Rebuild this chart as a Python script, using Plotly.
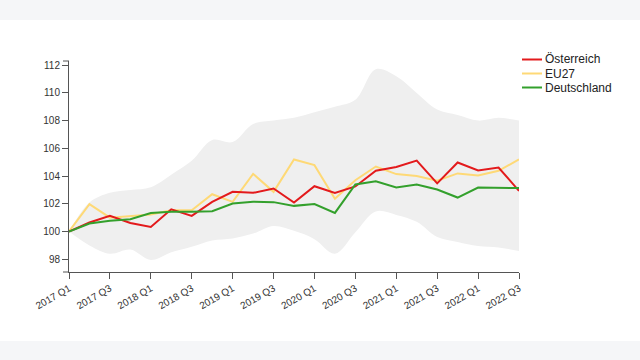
import plotly.graph_objects as go

quarters = [f"{y} Q{q}" for y in range(2017, 2023) for q in range(1, 5)][:23]
tick_labels = quarters[::2]

oesterreich = [100, 100.65, 101.13, 100.62, 100.33, 101.6, 101.13, 102.14, 102.86, 102.79, 103.1, 102.09,
               103.27, 102.79, 103.25, 104.38, 104.66, 105.12, 103.47, 104.98, 104.4, 104.62, 102.93]
eu27 = [100, 101.97, 101.0, 101.1, 101.23, 101.54, 101.54, 102.69, 102.14, 104.16, 102.86, 105.2,
        104.79, 102.37, 103.7, 104.69, 104.14, 104.0, 103.66, 104.19, 104.04, 104.38, 105.2]
deutschland = [100, 100.58, 100.77, 100.89, 101.34, 101.42, 101.42, 101.47, 102.02, 102.15, 102.12, 101.85,
               101.98, 101.34, 103.39, 103.63, 103.17, 103.39, 103.03, 102.45, 103.17, 103.17, 103.14]
band_upper = [100, 102.1, 102.8, 103.0, 103.2, 104.1, 105.1, 106.6, 106.45, 107.75, 108.0, 108.2,
              108.6, 109.0, 109.5, 111.7, 111.2, 110.0, 108.8, 108.4, 108.0, 108.2, 108.0]
band_lower = [100, 99.0, 98.4, 98.7, 97.95, 98.5, 98.9, 99.35, 99.5, 99.85, 100.4, 100.05,
              99.45, 98.4, 99.95, 101.45, 101.2, 100.7, 99.6, 99.25, 98.95, 98.85, 98.6]

series = [("Österreich", oesterreich, "#e31a1c"),
          ("EU27", eu27, "#fed976"),
          ("Deutschland", deutschland, "#33a02c")]

W, H = 640, 360
ML, MR, MT, MB = 69, 121, 61, 88
PW, PH = W - ML - MR, H - MT - MB


def px(x):
    return (x - ML) / PW


def py(y):
    return (H - MB - y) / PH


fig = go.Figure()
fig.add_trace(go.Scatter(x=quarters, y=band_lower, mode="lines", line=dict(width=0, shape="spline"),
                         hoverinfo="skip", showlegend=False))
fig.add_trace(go.Scatter(x=quarters, y=band_upper, mode="lines", line=dict(width=0, shape="spline"),
                         fill="tonexty", fillcolor="#efefef", hoverinfo="skip", showlegend=False))

for name, vals, col in [series[1], series[0], series[2]]:
    fig.add_trace(go.Scatter(x=quarters, y=vals, mode="lines", name=name,
                             line=dict(color=col, width=2), showlegend=False))

shapes = [
    dict(type="rect", xref="paper", yref="paper", x0=px(0), x1=px(W), y0=py(20), y1=py(0),
         fillcolor="#f5f6f8", line=dict(width=0), layer="below"),
    dict(type="rect", xref="paper", yref="paper", x0=px(0), x1=px(W), y0=py(H), y1=py(341),
         fillcolor="#f5f6f8", line=dict(width=0), layer="below"),
    # outer ticks (d3-style axis ends)
    dict(type="line", xref="paper", yref="paper", x0=px(63), x1=0, y0=1, y1=1,
         line=dict(color="#555", width=1)),
    dict(type="line", xref="paper", yref="paper", x0=px(63), x1=0, y0=0, y1=0,
         line=dict(color="#555", width=1)),
]
annotations = []
leg_y = [59.5, 73.5, 87.5]
for (name, vals, col), yy in zip(series, leg_y):
    shapes.append(dict(type="line", xref="paper", yref="paper", x0=px(522), x1=px(542),
                       y0=py(yy), y1=py(yy), line=dict(color=col, width=2)))
    annotations.append(dict(text=name, xref="paper", yref="paper", x=px(543), y=py(yy),
                            xanchor="left", yanchor="middle", showarrow=False,
                            font=dict(family="Liberation Sans, Arial", size=12, color="#222")))

fig.update_layout(
    width=W, height=H,
    margin=dict(l=ML, r=MR, t=MT, b=MB),
    paper_bgcolor="white", plot_bgcolor="white",
    showlegend=False,
    shapes=shapes, annotations=annotations,
    font=dict(family="Liberation Sans, Arial", size=10, color="#333"),
    xaxis=dict(type="category", range=[0, 22], tickmode="array", tickvals=tick_labels, ticktext=tick_labels,
               tickangle=-30, showgrid=False, zeroline=False, showline=True, linecolor="#555",
               ticks="outside", ticklen=6, tickcolor="#555"),
    yaxis=dict(range=[97.08, 112.3], tickvals=[98, 100, 102, 104, 106, 108, 110, 112],
               showgrid=False, zeroline=False, showline=True, linecolor="#555",
               ticks="outside", ticklen=6, tickcolor="#555"),
)

fig.write_html("out.html", config={"displayModeBar": False},
               post_script="document.body.style.margin='0';document.body.style.overflow='hidden';")
